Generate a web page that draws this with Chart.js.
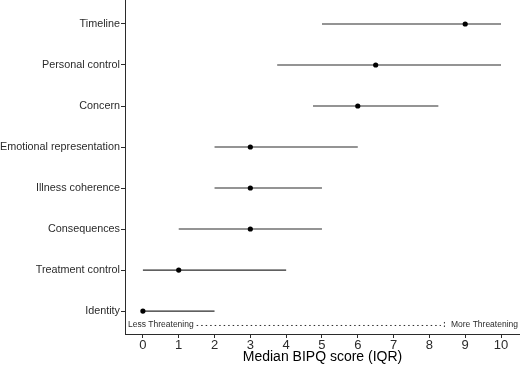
<!DOCTYPE html>
<html>
<head>
<meta charset="utf-8">
<script src="https://cdn.jsdelivr.net/npm/chart.js@4/dist/chart.umd.min.js"></script>
<style>
html,body{margin:0;padding:0;background:#fff;}
#wrap{width:520px;height:368px;position:relative;}
</style>
</head>
<body>
<div id="wrap"><canvas id="c" width="520" height="368"></canvas></div>
<script>
// Data (bottom to top)
const categories = ["Identity","Treatment control","Consequences","Illness coherence","Emotional representation","Concern","Personal control","Timeline"];
const medians = [0, 1, 3, 3, 3, 6, 6.5, 9];
const q1 = [0, 0, 1, 2, 2, 4.75, 3.75, 5];
const q3 = [2, 4, 5, 5, 6, 8.25, 10, 10];
const xTicks = [0, 1, 2, 3, 4, 5, 6, 7, 8, 9, 10];
const leftLabel = "Less Threatening";
const rightLabel = "More Threatening";
const xTitle = "Median BIPQ score (IQR)";

const FONT = "'Liberation Sans', Arial, Helvetica, sans-serif";
const INK = '#2b2b2b';

const datasets = [{
  label: 'Median',
  order: 0,
  data: medians.map((m, i) => ({x: m, y: i + 1})),
  pointRadius: 2.6,
  pointBackgroundColor: '#000',
  pointBorderColor: '#000',
  pointBorderWidth: 0,
  showLine: false
}];
categories.forEach((c, i) => {
  datasets.push({
    label: c + ' IQR',
    order: 1,
    data: [{x: q1[i], y: i + 1}, {x: q3[i], y: i + 1}],
    showLine: true,
    borderColor: INK,
    borderWidth: 1.2,
    pointRadius: 0,
    fill: false
  });
});

const annotPlugin = {
  id: 'annot',
  afterDatasetsDraw(chart) {
    const ctx = chart.ctx;
    const area = chart.chartArea;
    const y = chart.scales.y.getPixelForValue(0.66);
    ctx.save();
    ctx.font = "8.5px " + FONT;
    ctx.fillStyle = INK;
    ctx.textBaseline = 'middle';
    ctx.textAlign = 'left';
    const lx = area.left + 3;
    ctx.fillText(leftLabel, lx, y);
    const lw = ctx.measureText(leftLabel).width;
    ctx.textAlign = 'right';
    const rx = area.right - 2;
    ctx.fillText(rightLabel, rx, y);
    const rw = ctx.measureText(rightLabel).width;
    const x0 = lx + lw + 3;
    const x1 = rx - rw - 7;
    ctx.strokeStyle = INK;
    ctx.lineWidth = 1;
    ctx.setLineDash([1.5, 3]);
    ctx.beginPath();
    ctx.moveTo(x0, y + 0.5);
    ctx.lineTo(x1 - 3, y + 0.5);
    ctx.stroke();
    ctx.setLineDash([1.5, 2]);
    ctx.beginPath();
    ctx.moveTo(x1 + 0.5, y - 3);
    ctx.lineTo(x1 + 0.5, y + 4);
    ctx.stroke();
    ctx.restore();
  }
};

new Chart(document.getElementById('c'), {
  type: 'scatter',
  data: { datasets },
  options: {
    responsive: false,
    animation: false,
    devicePixelRatio: 1,
    layout: { padding: 0, autoPadding: false },
    plugins: { legend: { display: false }, tooltip: { enabled: false } },
    scales: {
      x: {
        type: 'linear',
        min: -0.5,
        max: 10.53,
        afterBuildTicks(s) { s.ticks = xTicks.map(v => ({value: v})); },
        afterFit(s) { s.height = 34; s.paddingLeft = 0; s.paddingRight = 0; },
        grid: { display: true, drawOnChartArea: false, drawTicks: true, tickLength: 4, color: INK, lineWidth: 1 },
        border: { display: true, color: INK, width: 1 },
        ticks: { color: INK, font: { family: FONT, size: 13 }, padding: 0, maxRotation: 0, autoSkip: false },
        title: { display: true, text: xTitle, color: '#000', font: { family: FONT, size: 14 }, padding: { top: 0, bottom: 2 } }
      },
      y: {
        type: 'linear',
        min: 0.44,
        max: 8.585,
        afterBuildTicks(s) { s.ticks = categories.map((c, i) => ({value: i + 1})); },
        afterFit(s) { s.width = 125; s.paddingTop = 0; s.paddingBottom = 0; },
        grid: { display: true, drawOnChartArea: false, drawTicks: true, tickLength: 4, color: INK, lineWidth: 1 },
        border: { display: true, color: INK, width: 1 },
        ticks: {
          color: INK, font: { family: FONT, size: 10.8 }, padding: 1, autoSkip: false,
          callback: (v) => categories[Math.round(v) - 1] || ''
        }
      }
    }
  },
  plugins: [annotPlugin]
});
</script>
</body>
</html>
